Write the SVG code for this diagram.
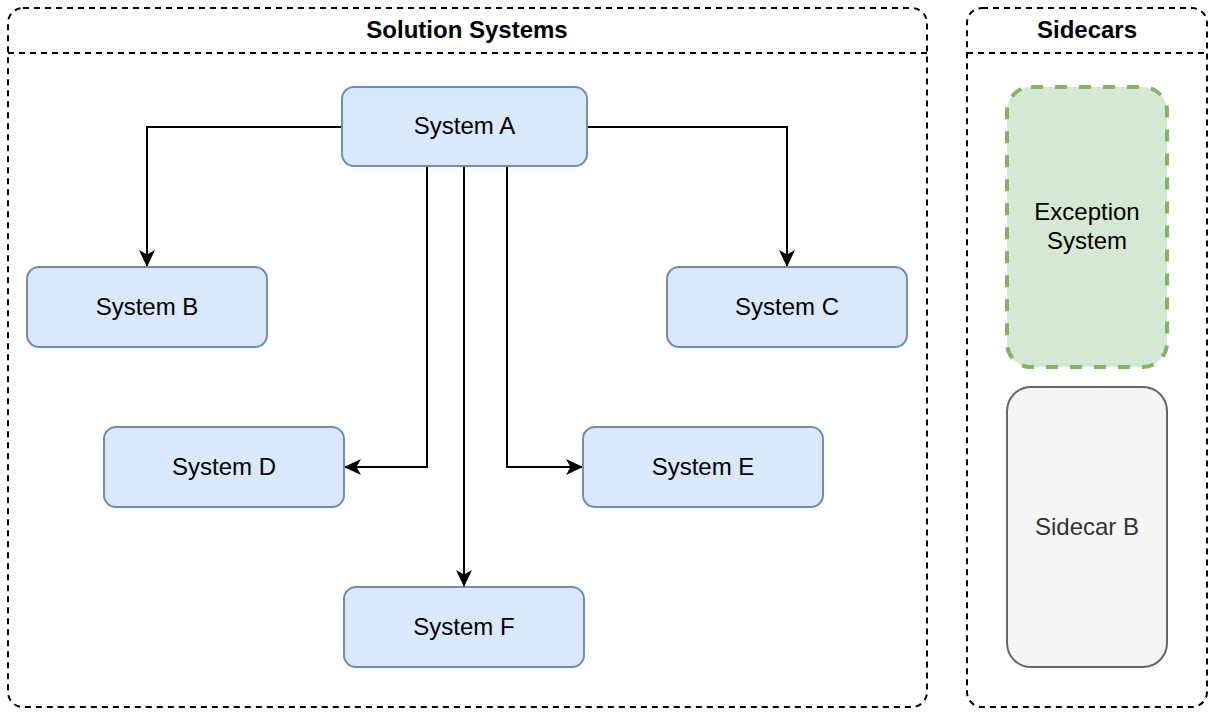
<svg xmlns="http://www.w3.org/2000/svg" width="1214" height="716" viewBox="0 0 1214 716">
<style>
.cont{fill:none;stroke:#000;stroke-width:2;stroke-dasharray:6 5}
.title{font-family:"Liberation Sans",Arial,sans-serif;font-size:24px;font-weight:bold;fill:#000;text-anchor:middle}
.sys{fill:#dae8fc;stroke:#6c8ebf;stroke-width:2}
.lbl{font-family:"Liberation Sans",Arial,sans-serif;font-size:24px;fill:#000;text-anchor:middle}
.edge{fill:none;stroke:#000;stroke-width:2}
</style>
<defs>
<marker id="arr" markerUnits="userSpaceOnUse" viewBox="0 0 17 17" markerWidth="17" markerHeight="17" refX="16" refY="8.5" orient="auto">
<path d="M0,0.5 L17,8.5 L0,16.5 L4.5,8.5 Z" fill="#000"/>
</marker>
</defs>
<rect width="1214" height="716" fill="#fff"/>
<g id="solution-systems">
<rect class="cont" x="8" y="8" width="919" height="699" rx="15"/>
<line class="cont" x1="8" y1="53" x2="927" y2="53"/>
<text class="title" x="467" y="38">Solution Systems</text>
</g>
<g id="sidecars">
<rect class="cont" x="967" y="8" width="240" height="699" rx="15"/>
<line class="cont" x1="967" y1="53" x2="1207" y2="53"/>
<text class="title" x="1087" y="38">Sidecars</text>
</g>
<g id="connectors">
<path class="edge" d="M342,127 H147 V266" marker-end="url(#arr)"/>
<path class="edge" d="M587,127 H787 V266" marker-end="url(#arr)"/>
<path class="edge" d="M427,167 V467 H345" marker-end="url(#arr)"/>
<path class="edge" d="M507,167 V467 H582" marker-end="url(#arr)"/>
<path class="edge" d="M464,167 V586" marker-end="url(#arr)"/>
</g>
<g id="system-a">
<rect class="sys" x="342" y="87" width="245" height="79" rx="12"/>
<text class="lbl" x="464.5" y="134">System A</text>
</g>
<g id="system-b">
<rect class="sys" x="27" y="267" width="240" height="80" rx="12"/>
<text class="lbl" x="147" y="314.5">System B</text>
</g>
<g id="system-c">
<rect class="sys" x="667" y="267" width="240" height="80" rx="12"/>
<text class="lbl" x="787" y="314.5">System C</text>
</g>
<g id="system-d">
<rect class="sys" x="104" y="427" width="240" height="80" rx="12"/>
<text class="lbl" x="224" y="474.5">System D</text>
</g>
<g id="system-e">
<rect class="sys" x="583" y="427" width="240" height="80" rx="12"/>
<text class="lbl" x="703" y="474.5">System E</text>
</g>
<g id="system-f">
<rect class="sys" x="344" y="587" width="240" height="80" rx="12"/>
<text class="lbl" x="464" y="634.5">System F</text>
</g>
<g id="exception-system">
<rect x="1007" y="87" width="160" height="280" rx="24" fill="#d5e8d4" stroke="#82b366" stroke-width="4" stroke-dasharray="12 12"/>
<text class="lbl" x="1087" y="220">Exception</text>
<text class="lbl" x="1087" y="249">System</text>
</g>
<g id="sidecar-b">
<rect x="1007" y="387" width="160" height="280" rx="24" fill="#f5f5f5" stroke="#666666" stroke-width="2"/>
<text class="lbl" x="1087" y="534.5" style="fill:#333333">Sidecar B</text>
</g>
</svg>
